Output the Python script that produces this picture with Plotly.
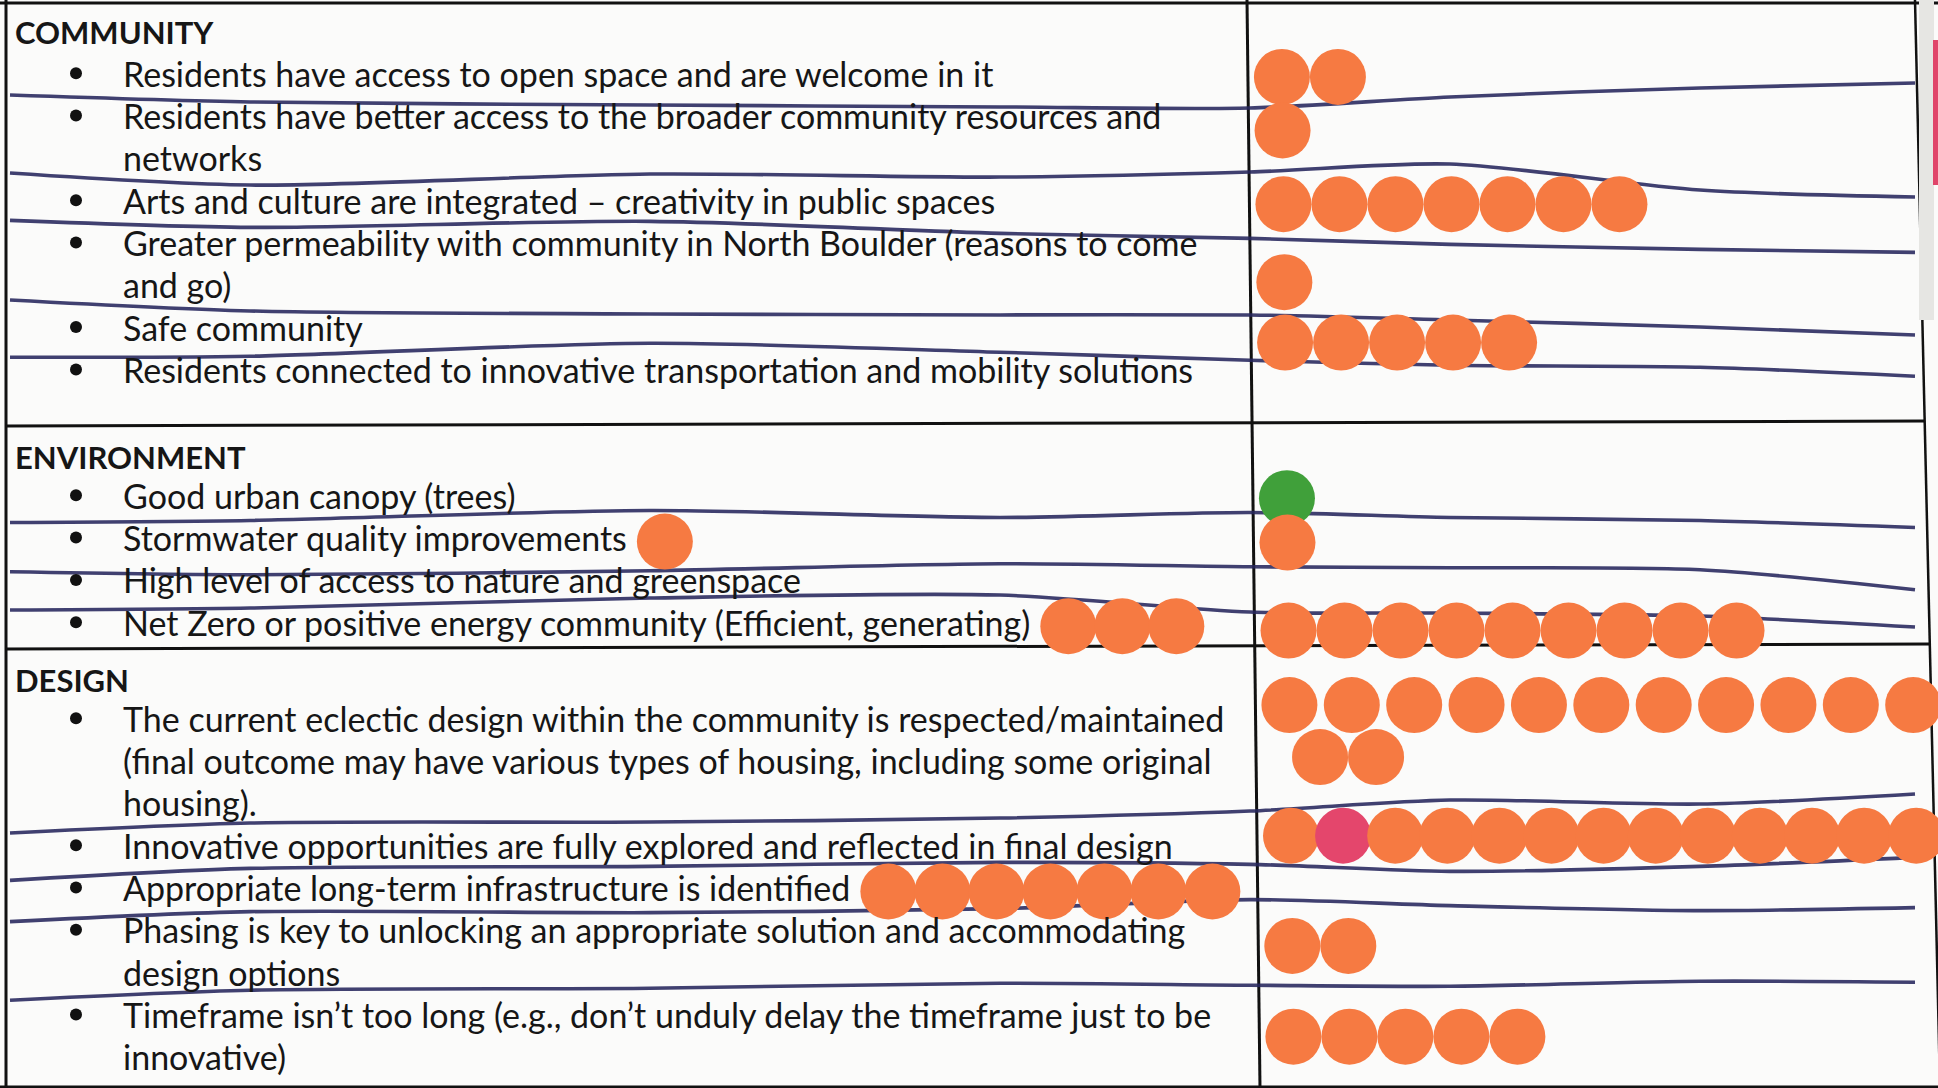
import glob
import plotly.graph_objects as go

# ------------------------------------------------------------------ data
SECTION_TITLES = ["COMMUNITY", "ENVIRONMENT", "DESIGN"]

COMMUNITY_ITEMS = [
    ["Residents have access to open space and are welcome in it"],
    ["Residents have better access to the broader community resources and", "networks"],
    ["Arts and culture are integrated \u2013 creativity in public spaces"],
    ["Greater permeability with community in North Boulder (reasons to come", "and go)"],
    ["Safe community"],
    ["Residents connected to innovative transportation and mobility solutions"],
]
COMMUNITY_ORANGE = [2, 1, 7, 1, 5, 0]
COMMUNITY_OTHER = [0, 0, 0, 0, 0, 0]
COMMUNITY_STRAY = [0, 0, 0, 0, 0, 0]

ENVIRONMENT_ITEMS = [
    ["Good urban canopy (trees)"],
    ["Stormwater quality improvements"],
    ["High level of access to nature and greenspace"],
    ["Net Zero or positive energy community (Efficient, generating)"],
]
ENVIRONMENT_ORANGE = [0, 1, 0, 9]
ENVIRONMENT_GREEN = [1, 0, 0, 0]
ENVIRONMENT_STRAY = [0, 1, 0, 3]

DESIGN_ITEMS = [
    ["The current eclectic design within the community is respected/maintained",
     "(final outcome may have various types of housing, including some original",
     "housing)."],
    ["Innovative opportunities are fully explored and reflected in final design"],
    ["Appropriate long-term infrastructure is identified"],
    ["Phasing is key to unlocking an appropriate solution and accommodating",
     "design options"],
    ["Timeframe isn\u2019t too long (e.g., don\u2019t unduly delay the timeframe just to be",
     "innovative)"],
]
DESIGN_ORANGE = [13, 12, 0, 2, 5]
DESIGN_PINK = [0, 1, 0, 0, 0]
DESIGN_STRAY = [0, 0, 7, 0, 0]

# ------------------------------------------------------------------ style / layout
W, H = 1938, 1088
PAPER = "#fbfbfa"
INK = "#161616"
ORANGE = "#f67a42"
GREEN = "#40a03a"
PINK = "#e4466c"
PEN = "rgba(38,38,92,0.88)"
FONT = "Lato"
FONT_SIZE = 34
HEADER_SIZE = 31

SECTION_TOP = [3, 425, 648]
TABLE_BOTTOM = 1087
HEADER_OFF = 32
LINE_H = 42.3
TEXT_DY = -4
X_HEADER = 13
X_BULLET = 76
X_TEXT = 121
DOT_SIZE = 56
DOT_STEP = 56
ROW_CAP = 11
STRAY_GAP = 40
STRAY_STEP = 54

# hand-drawn pen separators: vertical wobble (px) relative to the row boundary
PEN_X = [10, 250, 650, 1000, 1250, 1450, 1700, 1915]
PEN_DY = [
    [-3.5, 3.5, 6.5, 8.5, 9.5, -1.5, -10.5, -15.5],
    [-10, 2, -9, -6, -11, -19, 7, 14],
    [-5, 2, -4, 8, 13, 19, 24, 27],
    [-10, 1, 4, 5, 5, 10, 17, 25],
    [5, 4, -9, 0, 8, 13, 15, 24],
    [2, 0, -10, -3, -8, -3, 0, 7],
    [9, 12, 8, 1, 4, 5, 7, 27],
    [5, 3, -7, -10, 7, 8, 11, 22],
    [5, -5, -6, -10, -17, -28, -24, -34],
    [10, -2, -4, -8, -6, 1, -4, -13],
    [9, -1, 0, -4, -13, -7, -2, -5],
    [3, -7, -9, -14, -12, -11, -16, -15],
]


def divider_x(y):
    return 1247 + 13 * y / H


def right_x(y):
    return 1915 + 25 * y / H


def interp(xs, ys, x):
    for i in range(len(xs) - 1):
        if xs[i] <= x <= xs[i + 1]:
            t = (x - xs[i]) / (xs[i + 1] - xs[i])
            return ys[i] + t * (ys[i + 1] - ys[i])
    return ys[-1]


_font_cache = {}


def text_width(s, size=FONT_SIZE):
    try:
        from PIL import ImageFont
        if "f" not in _font_cache:
            paths = glob.glob("/usr/share/fonts/**/Lato-Regular.ttf", recursive=True)
            _font_cache["f"] = ImageFont.truetype(paths[0], size)
        return _font_cache["f"].getlength(s)
    except Exception:
        return len(s) * size * 0.47


SECTIONS = [
    (SECTION_TITLES[0], COMMUNITY_ITEMS, COMMUNITY_ORANGE, COMMUNITY_OTHER, ORANGE, COMMUNITY_STRAY),
    (SECTION_TITLES[1], ENVIRONMENT_ITEMS, ENVIRONMENT_ORANGE, ENVIRONMENT_GREEN, GREEN, ENVIRONMENT_STRAY),
    (SECTION_TITLES[2], DESIGN_ITEMS, DESIGN_ORANGE, DESIGN_PINK, PINK, DESIGN_STRAY),
]

annotations, shapes = [], []
bul_x, bul_y = [], []
dot_x, dot_y, dot_c = [], [], []
pen_x, pen_y = [], []
sep_no = 0

for s, (title, items, orange, other, other_col, stray) in enumerate(SECTIONS):
    top = SECTION_TOP[s]
    bottom = SECTION_TOP[s + 1] if s + 1 < len(SECTION_TOP) else TABLE_BOTTOM
    header_y = top + HEADER_OFF
    annotations.append(dict(x=X_HEADER, y=header_y - (3 if s == 0 else 0), text="<b>%s</b>" % title,
                            showarrow=False, xanchor="left", yanchor="middle",
                            font=dict(family=FONT, size=HEADER_SIZE, color=INK)))
    k = 1
    item_ys = []
    for lines in items:
        item_ys.append([header_y + LINE_H * (k + j) for j in range(len(lines))])
        k += len(lines)

    seps = []
    for i in range(len(items) - 1):
        base = (item_ys[i][-1] + item_ys[i + 1][0]) / 2
        ys = [base + d for d in PEN_DY[sep_no]]
        sep_no += 1
        seps.append(ys)
        pen_x += PEN_X + [None]
        pen_y += ys + [None]

    for i, lines in enumerate(items):
        ys = item_ys[i]
        for txt, y in zip(lines, ys):
            annotations.append(dict(x=X_TEXT, y=y + TEXT_DY, text=txt, showarrow=False,
                                    xanchor="left", yanchor="middle",
                                    font=dict(family=FONT, size=FONT_SIZE, color=INK)))
        bul_x.append(X_BULLET)
        bul_y.append(ys[0] + TEXT_DY)

        # votes in the right-hand column
        band_top = header_y + 22 if i == 0 else interp(PEN_X, seps[i - 1], 1450)
        band_bot = bottom if i == len(items) - 1 else interp(PEN_X, seps[i], 1450)
        centre = (band_top + band_bot) / 2
        colours = [ORANGE] * orange[i]
        pos = min(1, len(colours))
        colours[pos:pos] = [other_col] * other[i]
        n = len(colours)
        if n:
            if len(lines) > 1 and n > ROW_CAP:
                rows = [colours[:ROW_CAP], colours[ROW_CAP:]]
                row_ys = [centre - 46, centre + 6]
            else:
                rows = [colours]
                row_ys = [centre]
            for r, (row, ry) in enumerate(zip(rows, row_ys)):
                x0 = divider_x(ry) + 34 + r * 30
                avail = right_x(ry) - 18 - x0
                if len(row) >= ROW_CAP:
                    step = avail / (len(row) - 1)
                else:
                    step = DOT_STEP
                for m, c in enumerate(row):
                    dot_x.append(x0 + m * step)
                    dot_y.append(ry)
                    dot_c.append(c)
        # stray votes stuck on the text column
        if stray[i]:
            x0 = X_TEXT + text_width(lines[0]) + STRAY_GAP
            for m in range(stray[i]):
                dot_x.append(x0 + m * STRAY_STEP)
                dot_y.append(ys[0])
                dot_c.append(ORANGE)

# table rules
line_style = dict(color="#111111", width=3)
shapes.append(dict(type="line", x0=0, x1=W, y0=SECTION_TOP[0], y1=SECTION_TOP[0], line=line_style, layer="below"))
for t in SECTION_TOP[1:]:
    shapes.append(dict(type="line", x0=6, x1=right_x(t), y0=t + 1, y1=t - 4, line=line_style, layer="below"))
shapes.append(dict(type="line", x0=0, x1=W, y0=TABLE_BOTTOM, y1=TABLE_BOTTOM, line=line_style, layer="below"))
shapes.append(dict(type="line", x0=6, x1=6, y0=0, y1=H, line=line_style, layer="below"))
shapes.append(dict(type="line", x0=divider_x(0), x1=divider_x(H), y0=0, y1=H, line=line_style, layer="below"))
shapes.append(dict(type="line", x0=right_x(0), x1=right_x(H), y0=0, y1=H, line=dict(color="#111111", width=2.5), layer="below"))
shapes.append(dict(type="rect", x0=1919, x1=1934, y0=0, y1=320, fillcolor="#e6e6e3", line=dict(width=0), layer="below"))
shapes.append(dict(type="rect", x0=1933, x1=W + 5, y0=40, y1=185, fillcolor="#e0456a", line=dict(width=0), layer="below"))

fig = go.Figure()
fig.add_trace(go.Scatter(x=pen_x, y=pen_y, mode="lines", line=dict(color=PEN, width=3.6, shape="spline", smoothing=0.8),
                         hoverinfo="skip", showlegend=False))
fig.add_trace(go.Scatter(x=bul_x, y=bul_y, mode="markers", marker=dict(size=12, color="#111111"),
                         hoverinfo="skip", showlegend=False))
fig.add_trace(go.Scatter(x=dot_x, y=dot_y, mode="markers",
                         marker=dict(size=DOT_SIZE, color=dot_c, line=dict(width=0)),
                         hoverinfo="skip", showlegend=False))

fig.update_layout(
    width=W, height=H, margin=dict(l=0, r=0, t=0, b=0),
    paper_bgcolor=PAPER, plot_bgcolor=PAPER,
    xaxis=dict(range=[0, W], visible=False, fixedrange=True),
    yaxis=dict(range=[H, 0], visible=False, fixedrange=True),
    annotations=annotations, shapes=shapes, showlegend=False,
)

fig.write_html("out.html", config={"displayModeBar": False, "staticPlot": True},
               post_script="document.body.style.margin='0';document.body.style.overflow='hidden';"
                           "document.documentElement.style.overflow='hidden';")
